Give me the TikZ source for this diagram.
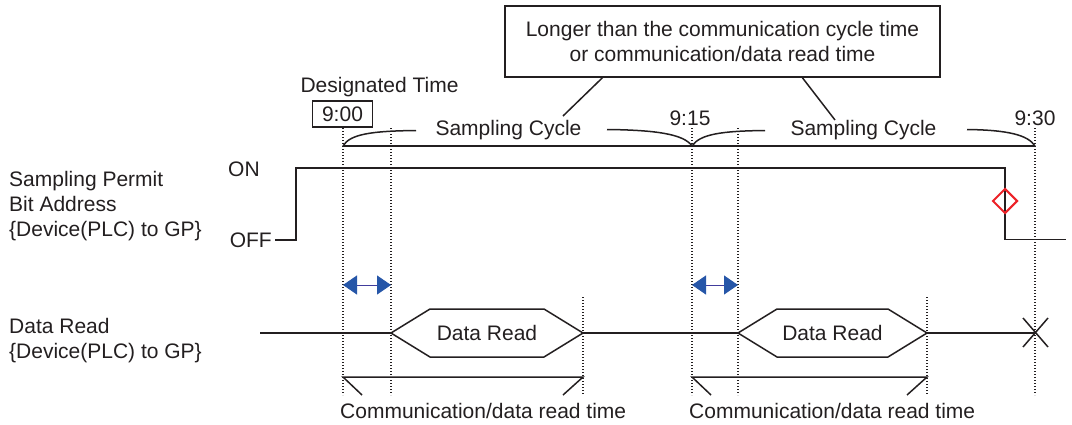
\documentclass[tikz,border=0pt]{standalone}
\usepackage{fontspec}
\setmainfont{Liberation Sans}
\usetikzlibrary{arrows.meta,positioning,shapes.geometric,calc}
\definecolor{ink}{RGB}{35,31,32}
\definecolor{markblue}{RGB}{38,86,168}
\definecolor{markred}{RGB}{236,34,40}
\tikzset{
  txt/.style={inner sep=0pt,text=ink,font=\fontsize{21}{25}\selectfont},
  wave/.style={draw=ink,line width=1.5pt},
  brace/.style={draw=ink,line width=1.5pt},
  guide/.style={draw=ink,line width=1.1pt,dash pattern=on 1.4pt off 1.6pt},
  gap/.style={{Triangle[length=14pt,width=19pt,color=markblue]}-{Triangle[length=14pt,width=19pt,color=markblue]},draw=markblue!70!violet,line width=1pt},
  check/.style={diamond,draw=markred,line width=2pt,minimum size=25pt,inner sep=0pt}
}

\begin{document}
\begin{tikzpicture}[x=1pt,y=-1pt]
\useasboundingbox (0,0) rectangle (1072,424);
% note box on top
\node[txt,draw=ink,line width=1.3pt,minimum width=435pt,minimum height=71pt,align=center] (note) at (722.5,41.5)
  {Longer than the communication cycle time\\or communication/data read time};
\node[txt,anchor=base] (desig) at (379.5,92) {Designated Time};
\node[txt,draw=ink,line width=1.3pt,minimum width=60pt,minimum height=26pt] (t900) at (342.5,114) {9:00};
\node[txt,anchor=base] (t915) at (690,125) {9:15};
\node[txt,anchor=base] (t930) at (1035,125) {9:30};
\node[txt,anchor=base] (cyc1) at (508.5,135) {Sampling Cycle};
\node[txt,anchor=base] (cyc2) at (863.5,135) {Sampling Cycle};
\draw[brace] ($(note.south west)!0.225!(note.south east)$) -- (563,116);
\draw[brace] ($(note.south west)!0.683!(note.south east)$) -- (835,120);
% guide lines
\foreach \x in {343,391,692,738,1035} \draw[guide] (\x,128) -- (\x,395);
\foreach \x in {583,927} \draw[guide] (\x,297) -- (\x,395);
% sampling cycle braces
\draw[brace] (343,146) -- (1035,146);
\draw[brace] (343,146) .. controls (350,134) and (372,131) .. (416,130.5);
\draw[brace] (607,129.5) .. controls (655,130) and (684,134) .. (692,146);
\draw[brace] (692,146) .. controls (700,134) and (722,131) .. (765,130.5);
\draw[brace] (967,129.5) .. controls (1008,130) and (1028,135) .. (1035,146);
% sampling permit bit
\node[txt,anchor=base west,align=left] (permit) at (9,236.7) {Sampling Permit\\Bit Address\\\{Device(PLC) to GP\}};
\node[txt,anchor=base west] (on) at (228,176) {ON};
\node[txt,anchor=base east] (off) at (272,247) {OFF};
\draw[wave] (275,240) -- (296,240) -- (296,168) -- (1005,168) -- (1005,239.5) -- (1066,239.5);
\node[check] (chk) at (1005,201) {};
% data read
\node[txt,anchor=base west,align=left] (dread) at (9,358.3) {Data Read\\\{Device(PLC) to GP\}};
\foreach \a/\b in {343/391,692/738} \draw[gap] (\a,285) -- (\b,285);
\draw[wave] (260,333) -- (391,333) (583,333) -- (738,333) (927,333) -- (1036,333);
\foreach \a/\b/\n in {391/583/rd1,738/927/rd2} {
  \draw[wave] (\a,333) -- (\a+39,309) -- (\b-39,309) -- (\b,333) -- (\b-39,357) -- (\a+39,357) -- cycle;
  \node[txt] (\n) at ({(\a+\b)/2},333) {Data Read};
}
\draw[wave] (1023,318) -- (1048,347) (1048,318) -- (1023,347);
% communication time brackets
\foreach \a/\b/\n in {343/583/ct1,692/927/ct2} {
  \draw[brace] (\a+19,395) -- (\a,377) -- (\b,377) -- (\b-20,395);
  \node[txt,anchor=base west] (\n) at (\a-3,418) {Communication/data read time};
}
\end{tikzpicture}
\end{document}
